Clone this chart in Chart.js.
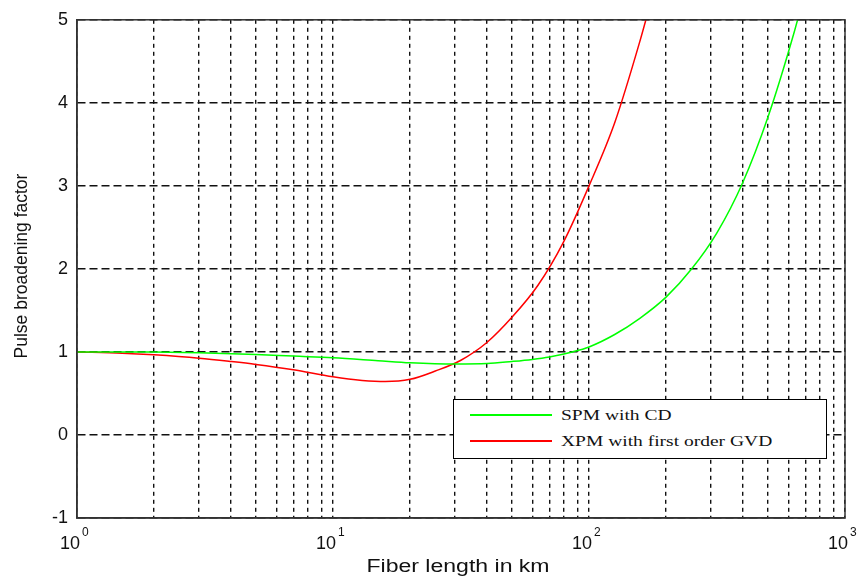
<!DOCTYPE html>
<html>
<head>
<meta charset="utf-8">
<script src="https://cdn.jsdelivr.net/npm/chart.js@4.4.1/dist/chart.umd.min.js"></script>
<style>
  html, body { margin: 0; padding: 0; background: #ffffff; }
  #wrap { position: relative; width: 862px; height: 577px; }
  #chart { position: absolute; left: 0; top: 0; }
  #legend {
    position: absolute; left: 453px; top: 399px; width: 374px; height: 60px;
    box-sizing: border-box; border: 1px solid #000; background: #fff;
    font-family: "Liberation Serif", "Times New Roman", serif; font-size: 15px; color: #111;
  }
  .row { position: absolute; left: 0; height: 20px; width: 100%; }
  .swatch { position: absolute; left: 16px; width: 82px; height: 2px; top: 9px; }
  .lbl { position: absolute; left: 107px; white-space: nowrap; transform: scaleX(1.3); transform-origin: left center; line-height: 20px; }
</style>
</head>
<body>
<div id="wrap">
  <canvas id="chart" width="862" height="577"></canvas>
  <div id="legend">
    <div class="row" style="top:5px"><div class="swatch" id="sw0"></div><div class="lbl" id="lbl0"></div></div>
    <div class="row" style="top:31px"><div class="swatch" id="sw1"></div><div class="lbl" id="lbl1"></div></div>
  </div>
</div>
<script>
// ---- data ----
const seriesNames = ['SPM with CD', 'XPM with first order GVD'];
const seriesColors = ['#00ff00', '#ff0000'];
const spmKm     = [1, 2, 3, 5, 7, 10, 15, 20, 30, 40, 50, 60, 70, 86, 100, 126, 158, 200, 251, 316, 398, 501, 631, 700];
const spmFactor = [1.0, 0.998, 0.99, 0.97, 0.95, 0.93, 0.895, 0.87, 0.855, 0.86, 0.885, 0.91, 0.94, 1.0, 1.06, 1.21, 1.405, 1.66, 1.995, 2.435, 3.035, 3.835, 4.835, 5.35];
const xpmKm     = [1, 1.5, 2, 3, 4, 5, 7, 10, 13, 16, 20, 25.1, 31.6, 39.8, 50.1, 63.1, 79.4, 100, 126, 158, 178];
const xpmFactor = [1.0, 0.985, 0.965, 0.925, 0.885, 0.85, 0.785, 0.70, 0.657, 0.643, 0.67, 0.77, 0.90, 1.11, 1.42, 1.80, 2.32, 3.0, 3.76, 4.74, 5.32];
const xDecades = [1, 10, 100, 1000];
const xDecadeExponents = ['0', '1', '2', '3'];
const yTicks = [-1, 0, 1, 2, 3, 4, 5];
const xTitle = 'Fiber length in km';
const yTitle = 'Pulse broadening factor';

document.getElementById('lbl0').textContent = seriesNames[0];
document.getElementById('lbl1').textContent = seriesNames[1];
document.getElementById('sw0').style.background = seriesColors[0];
document.getElementById('sw1').style.background = seriesColors[1];

const SANS = '"Liberation Sans", Arial, sans-serif';

const framePlugin = {
  id: 'frame',
  afterDraw(chart) {
    const { ctx, chartArea: a, scales } = chart;
    ctx.save();
    ctx.strokeStyle = '#333';
    ctx.lineWidth = 1.5;
    ctx.strokeRect(a.left, a.top, a.right - a.left, a.bottom - a.top);
    // x decade labels with superscripts
    ctx.fillStyle = '#111';
    xDecades.forEach((d, i) => {
      const px = scales.x.getPixelForValue(d);
      ctx.font = '18px ' + SANS;
      ctx.textAlign = 'right';
      ctx.textBaseline = 'alphabetic';
      ctx.fillText('10', px + 3, 549);
      ctx.font = '12px ' + SANS;
      ctx.textAlign = 'left';
      ctx.fillText(xDecadeExponents[i], px + 5, 536);
    });
    // x title (horizontally stretched like the reference)
    ctx.save();
    ctx.translate(458, 572);
    ctx.scale(1.28, 1);
    ctx.font = '18px ' + SANS;
    ctx.textAlign = 'center';
    ctx.textBaseline = 'alphabetic';
    ctx.fillText(xTitle, 0, 0);
    ctx.restore();
    // y title
    ctx.save();
    ctx.translate(27, 266);
    ctx.rotate(-Math.PI / 2);
    ctx.font = '17.5px ' + SANS;
    ctx.textAlign = 'center';
    ctx.textBaseline = 'alphabetic';
    ctx.fillText(yTitle, 0, 0);
    ctx.restore();
    ctx.restore();
  }
};

new Chart(document.getElementById('chart'), {
  type: 'line',
  data: {
    datasets: [
      {
        label: seriesNames[0],
        data: spmKm.map((x, i) => ({ x, y: spmFactor[i] })),
        borderColor: seriesColors[0], borderWidth: 1.5, pointRadius: 0,
        cubicInterpolationMode: 'monotone', fill: false
      },
      {
        label: seriesNames[1],
        data: xpmKm.map((x, i) => ({ x, y: xpmFactor[i] })),
        borderColor: seriesColors[1], borderWidth: 1.5, pointRadius: 0,
        cubicInterpolationMode: 'monotone', fill: false
      }
    ]
  },
  options: {
    responsive: false,
    animation: false,
    devicePixelRatio: 1,
    layout: { padding: { left: 0, top: 16, right: 17, bottom: 0 } },
    plugins: { legend: { display: false }, tooltip: { enabled: false } },
    scales: {
      x: {
        type: 'logarithmic', min: 1, max: 1000,
        afterBuildTicks(scale) {
          const t = [];
          for (let k = 0; k < 3; k++) {
            for (let m = 1; m <= 9; m++) t.push({ value: xDecades[k] * m, major: m === 1 });
          }
          t.push({ value: 1000, major: true });
          scale.ticks = t;
        },
        afterFit(scale) { scale.height = 59; },
        ticks: { callback: () => '', autoSkip: false, maxRotation: 0 },
        grid: { color: '#111', lineWidth: 1.4, drawTicks: false },
        border: { display: true, color: '#333', width: 1.5, dash: [4, 4] }
      },
      y: {
        type: 'linear', min: -1, max: 5,
        afterBuildTicks(scale) { scale.ticks = yTicks.map(v => ({ value: v })); },
        afterFit(scale) { scale.width = 77; },
        ticks: { color: '#111', font: { family: SANS, size: 18 }, padding: 9 },
        grid: { color: '#111', lineWidth: 1.4, drawTicks: false },
        border: { display: true, color: '#333', width: 1.5, dash: [8, 4] }
      }
    }
  },
  plugins: [framePlugin]
});
</script>
</body>
</html>
